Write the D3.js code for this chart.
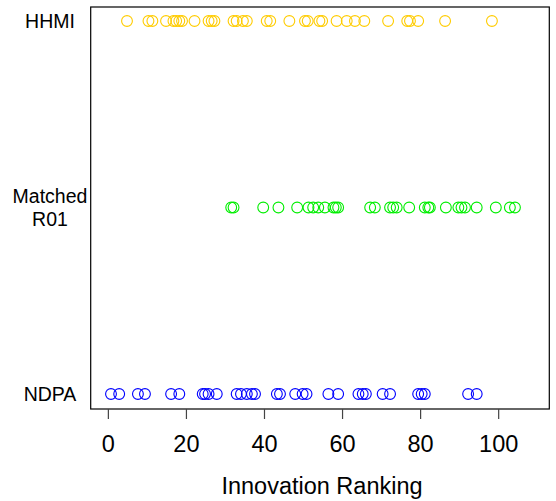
<!DOCTYPE html>
<html>
<head>
<meta charset="utf-8">
<script src="https://cdn.jsdelivr.net/npm/d3@7"></script>
<style>
  body { margin: 0; background: #fff; }
  text { font-family: "Liberation Sans", Arial, sans-serif; fill: #000; }
</style>
</head>
<body>
<svg id="chart" width="556" height="501"></svg>
<script>
// Groups, from bottom to top, and their colours
const groups = ["NDPA", "Matched R01", "HHMI"];
const groupLines = [["NDPA"], ["Matched", "R01"], ["HHMI"]];
const groupColors = ["#0000ff", "#00ee00", "#ffcc00"];

// Innovation ranking of each grant
const hhmiValues = [4.9, 10.4, 11.4, 14.9, 16.8, 17.5, 18.3, 19.0, 22.2, 25.8, 26.6, 27.3,
  32.2, 33.0, 34.6, 35.6, 40.7, 41.6, 46.5, 50.5, 51.2, 54.2, 54.9, 58.6, 61.2, 63.3,
  65.7, 71.8, 76.7, 77.4, 79.5, 86.4, 98.4];
const matchedValues = [31.6, 32.2, 39.8, 43.7, 48.5, 51.4, 52.6, 53.9, 55.6, 57.8, 58.4,
  59.0, 67.2, 68.4, 72.3, 73.1, 74.0, 77.2, 81.2, 82.1, 82.5, 86.6, 89.8, 90.6, 91.5,
  94.5, 99.4, 103.0, 104.3];
const ndpaValues = [0.8, 2.9, 7.7, 9.5, 16.2, 18.3, 24.3, 24.9, 25.8, 27.9, 33.0, 34.1,
  35.6, 36.9, 37.7, 43.3, 44.1, 48.0, 49.9, 50.9, 56.5, 59.0, 64.2, 65.3, 66.1, 70.4,
  72.3, 79.5, 80.4, 81.2, 92.3, 94.5];

const xTicks = [0, 20, 40, 60, 80, 100];
const xTitle = "Innovation Ranking";

const svg = d3.select("#chart");

// plot box
const box = { left: 90.7, right: 549.3, top: 7, bottom: 409 };

const x = d3.scaleLinear().domain([-4.4, 113.1]).range([box.left, box.right]);
const y = d3.scalePoint().domain(groups).range([394, 21]);

// points, one row per group
const rows = [
  { group: "NDPA", values: ndpaValues },
  { group: "Matched R01", values: matchedValues },
  { group: "HHMI", values: hhmiValues }
];

const points = [];
rows.forEach(function(r) {
  r.values.forEach(function(v) { points.push({ group: r.group, value: v }); });
});

svg.append("g")
  .selectAll("circle")
  .data(points)
  .enter().append("circle")
  .attr("cx", d => x(d.value))
  .attr("cy", d => y(d.group))
  .attr("r", 5.4)
  .attr("fill", "none")
  .attr("stroke", d => groupColors[groups.indexOf(d.group)])
  .attr("stroke-width", 1.1);

// frame
svg.append("rect")
  .attr("x", box.left)
  .attr("y", box.top)
  .attr("width", box.right - box.left)
  .attr("height", box.bottom - box.top)
  .attr("fill", "none")
  .attr("stroke", "#000")
  .attr("stroke-width", 1.2);

// x axis
const xAxis = svg.append("g")
  .attr("transform", "translate(0," + box.bottom + ")")
  .call(d3.axisBottom(x).tickValues(xTicks).tickSizeInner(10).tickSizeOuter(0).tickPadding(16.8));

xAxis.select(".domain").remove();
xAxis.selectAll(".tick line").attr("stroke", "#444").attr("stroke-width", 1.2);
xAxis.selectAll(".tick text")
  .attr("fill", "#000")
  .style("font-family", "'Liberation Sans', Arial, sans-serif")
  .style("font-size", "23.5px");

svg.append("text")
  .attr("x", 322)
  .attr("y", 494)
  .attr("text-anchor", "middle")
  .style("font-size", "23.5px")
  .text(xTitle);

// y labels (centred, multi-line for Matched R01)
groups.forEach(function(g, i) {
  const lines = groupLines[i];
  const lh = 23;
  const t = svg.append("text")
    .attr("text-anchor", "middle")
    .style("font-size", "19.5px");
  lines.forEach(function(line, j) {
    t.append("tspan")
      .attr("x", 50)
      .attr("y", y(g) + 7 + (j - (lines.length - 1) / 2) * lh)
      .text(line);
  });
});
</script>
</body>
</html>
